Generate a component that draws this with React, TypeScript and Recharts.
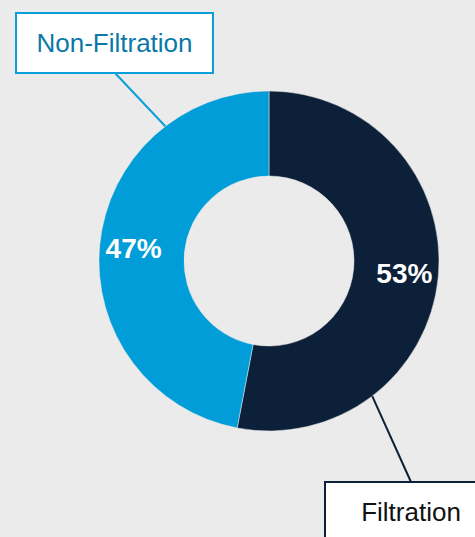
import { PieChart, Pie, Cell } from "recharts";

const categories = ["Filtration", "Non-Filtration"];
const shares = [53, 47];

const COLORS = ["#0c2039", "#009dd9"];
const BG = "#ebebeb";
const FONT = "'Liberation Sans', Arial, sans-serif";
const RADIAN = Math.PI / 180;

// callout boxes: leader angle (recharts degrees), box rect, anchor point where the leader meets the box
const CALLOUTS: Record<string, any> = {
    Filtration: {
        angle: -52.6,
        box: { x: 325, y: 482, w: 172, h: 60 },
        anchor: { x: 411, y: 482 },
        border: "#0c2039",
        text: "#111111",
    },
    "Non-Filtration": {
        angle: 127.6,
        box: { x: 16, y: 13, w: 197, h: 60 },
        anchor: { x: 115, y: 73 },
        border: "#0a9fd8",
        text: "#0b78a8",
    },
};

const data = categories.map((name, i) => ({ name, value: shares[i] }));

const renderLabel = (props: any) => {
    const { cx, cy, midAngle, innerRadius, outerRadius, index } = props;
    const name = categories[index];
    const r = innerRadius + (outerRadius - innerRadius) * 0.6;
    const x = cx + r * Math.cos(-midAngle * RADIAN);
    const y = cy + r * Math.sin(-midAngle * RADIAN);
    const c = CALLOUTS[name];
    const lx = cx + outerRadius * Math.cos(-c.angle * RADIAN);
    const ly = cy + outerRadius * Math.sin(-c.angle * RADIAN);
    return (
        <g key={`lbl-${index}`}>
            <text
                x={x}
                y={y}
                fill="#ffffff"
                textAnchor="middle"
                dominantBaseline="central"
                fontFamily={FONT}
                fontWeight="bold"
                fontSize={28}
            >
                {`${shares[index]}%`}
            </text>
            <line x1={lx} y1={ly} x2={c.anchor.x} y2={c.anchor.y} stroke={c.border} strokeWidth={2} />
            <rect
                x={c.box.x}
                y={c.box.y}
                width={c.box.w}
                height={c.box.h}
                fill="#ffffff"
                stroke={c.border}
                strokeWidth={2}
            />
            <text
                x={c.box.x + c.box.w / 2}
                y={c.box.y + 39}
                fill={c.text}
                textAnchor="middle"
                fontFamily={FONT}
                fontSize={26}
            >
                {name}
            </text>
        </g>
    );
};

export default function App() {
    return (
        <div style={{ width: 475, height: 537, background: BG, overflow: "hidden" }}>
            <style>{`body{margin:0;}`}</style>
            <PieChart width={475} height={537} margin={{ top: 0, right: 0, bottom: 0, left: 0 }}>
                <Pie
                    data={data}
                    dataKey="value"
                    nameKey="name"
                    cx={269}
                    cy={261}
                    innerRadius={85}
                    outerRadius={170}
                    startAngle={90}
                    endAngle={-270}
                    stroke={BG}
                    strokeWidth={0.5}
                    label={renderLabel}
                    labelLine={false}
                    isAnimationActive={false}
                >
                    {data.map((entry, index) => (
                        <Cell key={`cell-${index}`} fill={COLORS[index]} />
                    ))}
                </Pie>
            </PieChart>
        </div>
    );
}
